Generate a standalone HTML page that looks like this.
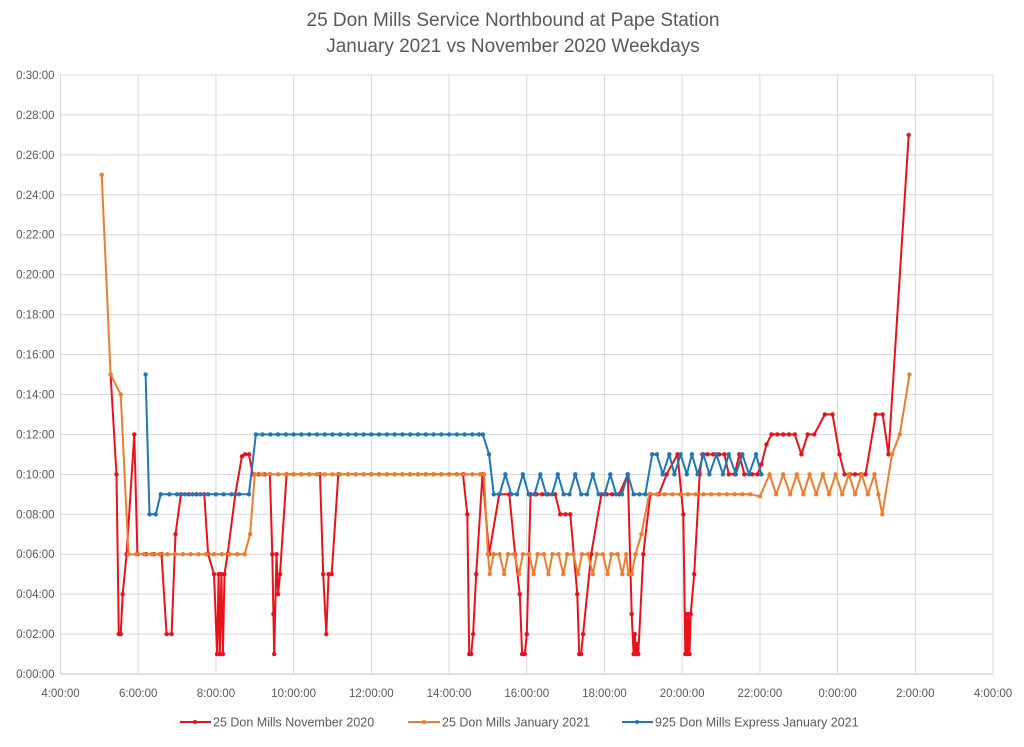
<!DOCTYPE html>
<html><head><meta charset="utf-8"><style>
body{margin:0;background:#fff;font-family:"Liberation Sans",Arial,sans-serif}
svg text{font-family:"Liberation Sans",Arial,sans-serif;fill:#595959}
</style></head><body>
<svg id="chart" width="1024" height="742" viewBox="0 0 1024 742" xmlns="http://www.w3.org/2000/svg">
<text x="513" y="26" text-anchor="middle" font-size="19">25 Don Mills Service Northbound at Pape Station</text>
<text x="513" y="52" text-anchor="middle" font-size="19">January 2021 vs November 2020 Weekdays</text>
<g id="grid"></g>
<g id="yaxis"></g>
<g id="xaxis"></g>
<g id="series"></g>
<g>
<g><line x1="180" y1="722" x2="211" y2="722" stroke="#e8121a" stroke-width="2"/><circle cx="195" cy="722" r="2" fill="#e8121a"/><text x="213" y="726.5" font-size="12.5">25 Don Mills November 2020</text></g>
<g><line x1="408" y1="722" x2="440" y2="722" stroke="#ed7d31" stroke-width="2"/><circle cx="424" cy="722" r="2" fill="#ed7d31"/><text x="442" y="726.5" font-size="12.5">25 Don Mills January 2021</text></g>
<g><line x1="622" y1="722" x2="653" y2="722" stroke="#1f77b4" stroke-width="2"/><circle cx="637" cy="722" r="2" fill="#1f77b4"/><text x="655" y="726.5" font-size="12.5">925 Don Mills Express January 2021</text></g>
</g>
</svg>
<script>
const yTicks=[0,2,4,6,8,10,12,14,16,18,20,22,24,26,28,30];
const yTickLabels=["0:00:00","0:02:00","0:04:00","0:06:00","0:08:00","0:10:00","0:12:00","0:14:00","0:16:00","0:18:00","0:20:00","0:22:00","0:24:00","0:26:00","0:28:00","0:30:00"];
const xTicks=[4,6,8,10,12,14,16,18,20,22,24,26,28];
const xTickLabels=["4:00:00","6:00:00","8:00:00","10:00:00","12:00:00","14:00:00","16:00:00","18:00:00","20:00:00","22:00:00","0:00:00","2:00:00","4:00:00"];

const novTimes=[5.29,5.44,5.5,5.55,5.6,5.7,5.9,5.98,6.2,6.4,6.6,6.73,6.86,6.96,7.1,7.3,7.5,7.7,7.8,7.95,8.03,8.07,8.1,8.14,8.18,8.22,8.3,8.5,8.67,8.75,8.85,8.95,9.1,9.25,9.39,9.45,9.48,9.5,9.56,9.6,9.65,9.82,10.0,10.2,10.4,10.68,10.76,10.84,10.9,10.98,11.15,11.4,11.6,11.8,12.0,12.2,12.4,12.6,12.8,13.0,13.2,13.4,13.6,13.8,14.0,14.2,14.36,14.47,14.52,14.57,14.62,14.7,14.86,15.03,15.29,15.55,15.7,15.82,15.88,15.95,16.0,16.1,16.25,16.4,16.55,16.73,16.86,17.0,17.12,17.3,17.35,17.4,17.45,17.66,17.92,18.05,18.2,18.38,18.6,18.7,18.75,18.78,18.81,18.84,18.87,19.0,19.18,19.4,19.6,19.88,20.03,20.08,20.1,20.13,20.16,20.19,20.22,20.31,20.45,20.52,20.65,20.8,20.95,21.09,21.2,21.35,21.47,21.6,21.8,21.94,22.04,22.17,22.3,22.45,22.6,22.75,22.9,23.07,23.23,23.4,23.67,23.87,24.05,24.18,24.32,24.45,24.6,24.72,24.98,25.16,25.31,25.83];
const novValues=[15,10,2,2,4,6,12,6,6,6,6,2,2,7,9,9,9,9,6,5,1,5,1,5,1,5,6,9,10.9,11,11,10,10,10,10,6,3,1,6,4,5,10,10,10,10,10,5,2,5,5,10,10,10,10,10,10,10,10,10,10,10,10,10,10,10,10,10,8,1,1,2,5,10,6,9,9,6,4,1,1,2,9,9,9,9,9,8,8,8,4,1,1,2,6,9,9,9,9,10,3,1,2,1,1.5,1,6,9,9,10,11,8,1,3,1,3,1,3,5,10,11,11,11,11,11,10,10,11,10,10,10,10.5,11.5,12,12,12,12,12,11,12,12,13,13,11,10,10,10,10,10,13,13,11,27];

const janTimes=[5.06,5.29,5.55,5.75,
5.95,6.15,6.35,6.55,6.75,6.95,7.15,7.35,7.55,7.75,7.95,8.15,8.35,8.55,
8.74,8.88,
9.0,9.2,9.4,9.6,9.8,10.0,10.2,10.4,10.6,10.8,11.0,11.2,11.4,11.6,11.8,12.0,12.2,12.4,12.6,12.8,13.0,13.2,13.4,13.6,13.8,14.0,14.2,14.4,14.6,14.8,14.9,
15.0,15.05,15.15,15.3,15.42,15.52,15.68,15.8,15.9,16.06,16.18,16.28,16.44,16.56,16.66,16.82,16.94,17.04,17.2,17.32,17.42,17.58,17.7,17.8,17.96,18.08,18.18,18.34,18.46,18.56,
18.62,18.7,18.8,18.95,
19.15,19.35,19.55,19.75,19.95,20.15,20.35,20.55,20.75,20.95,21.15,21.35,21.55,21.75,22.0,
22.25,22.42,22.6,22.78,22.95,23.12,23.28,23.45,23.62,23.78,23.95,24.12,24.29,24.45,24.62,24.78,24.95,
25.05,25.15,25.4,25.6,25.85];
const janValues=[25,15,14,6,
6,6,6,6,6,6,6,6,6,6,6,6,6,6,
6,7,
10,10,10,10,10,10,10,10,10,10,10,10,10,10,10,10,10,10,10,10,10,10,10,10,10,10,10,10,10,10,10,
6,5,6,6,5,6,6,5,6,6,5,6,6,5,6,6,5,6,6,5,6,6,5,6,6,5,6,6,5,6,
5,5,6,7,
9,9,9,9,9,9,9,9,9,9,9,9,9,9,8.9,
10,9,10,9,10,9,10,9,10,9,10,9,10,9,10,9,10,
9,8,11,12,15];

const expTimes=[6.19,6.29,6.45,6.58,6.8,7.0,7.2,7.4,7.6,7.8,8.0,8.2,8.4,8.6,8.85,9.03,9.2,9.4,9.6,9.8,10.0,10.2,10.4,10.6,10.8,11.0,11.2,11.4,11.6,11.8,12.0,12.2,12.4,12.6,12.8,13.0,13.2,13.4,13.6,13.8,14.0,14.2,14.4,14.6,14.77,14.87,15.03,15.15,15.3,15.45,15.6,15.75,15.9,16.05,16.2,16.35,16.5,16.65,16.8,16.95,17.1,17.25,17.4,17.55,17.7,17.85,18.0,18.15,18.3,18.45,18.6,18.75,18.9,19.05,19.23,19.35,19.5,19.67,19.8,19.96,20.12,20.25,20.4,20.55,20.7,20.88,21.05,21.2,21.38,21.55,21.72,21.9,22.04];
const expValues=[15,8,8,9,9,9,9,9,9,9,9,9,9,9,9,12,12,12,12,12,12,12,12,12,12,12,12,12,12,12,12,12,12,12,12,12,12,12,12,12,12,12,12,12,12,12,11,9,9,10,9,9,10,9,9,10,9,9,10,9,9,10,9,9,10,9,9,10,9,9,10,9,9,9,11,11,10,11,10,11,10,11,10,11,10,11,10,11,10,11,10,11,10];

const X0=60.5,X1=993,Y0=674,Y1=75;
function xs(h){return X0+(h-4)/24*(X1-X0);}
function ys(m){return Y0-m/30*(Y0-Y1);}
const NS="http://www.w3.org/2000/svg";
const grid=document.getElementById('grid'),ya=document.getElementById('yaxis'),xa=document.getElementById('xaxis'),sg=document.getElementById('series');
yTicks.forEach((t,i)=>{
  const l=document.createElementNS(NS,'line');
  l.setAttribute('x1',X0);l.setAttribute('x2',X1);l.setAttribute('y1',ys(t));l.setAttribute('y2',ys(t));
  l.setAttribute('stroke',t===0?'#bfbfbf':'#d9d9d9');l.setAttribute('stroke-width','1');
  
  
  grid.appendChild(l);
  const tx=document.createElementNS(NS,'text');
  tx.setAttribute('x',X0-6);tx.setAttribute('y',ys(t)+4);tx.setAttribute('text-anchor','end');tx.setAttribute('font-size','11.5');
  tx.textContent=yTickLabels[i];
  
  
  ya.appendChild(tx);
});
xTicks.forEach((t,i)=>{
  const l=document.createElementNS(NS,'line');
  l.setAttribute('x1',xs(t));l.setAttribute('x2',xs(t));l.setAttribute('y1',Y1);l.setAttribute('y2',Y0);
  l.setAttribute('stroke','#d9d9d9');l.setAttribute('stroke-width','1');
  
  
  grid.appendChild(l);
  const tx=document.createElementNS(NS,'text');
  tx.setAttribute('x',xs(t));tx.setAttribute('y',697);tx.setAttribute('text-anchor','middle');tx.setAttribute('font-size','11.5');
  tx.textContent=xTickLabels[i];
  
  
  xa.appendChild(tx);
});
function drawSeries(times,vals,color,name){
  const g=document.createElementNS(NS,'g');
  
  
  const p=document.createElementNS(NS,'polyline');
  p.setAttribute('points',times.map((t,i)=>xs(t).toFixed(1)+','+ys(vals[i]).toFixed(1)).join(' '));
  p.setAttribute('fill','none');p.setAttribute('stroke',color);p.setAttribute('stroke-width','2');p.setAttribute('stroke-linejoin','round');
  
  
  g.appendChild(p);
  times.forEach((t,i)=>{
    const c=document.createElementNS(NS,'circle');
    c.setAttribute('cx',xs(t));c.setAttribute('cy',ys(vals[i]));c.setAttribute('r','2.2');c.setAttribute('fill',color);
    
    
    g.appendChild(c);
  });
  sg.appendChild(g);
}
drawSeries(novTimes,novValues,'#e8121a','series-nov-2020');
drawSeries(janTimes,janValues,'#ed7d31','series-jan-2021');
drawSeries(expTimes,expValues,'#1f77b4','series-925-express');
</script>
</body></html>
